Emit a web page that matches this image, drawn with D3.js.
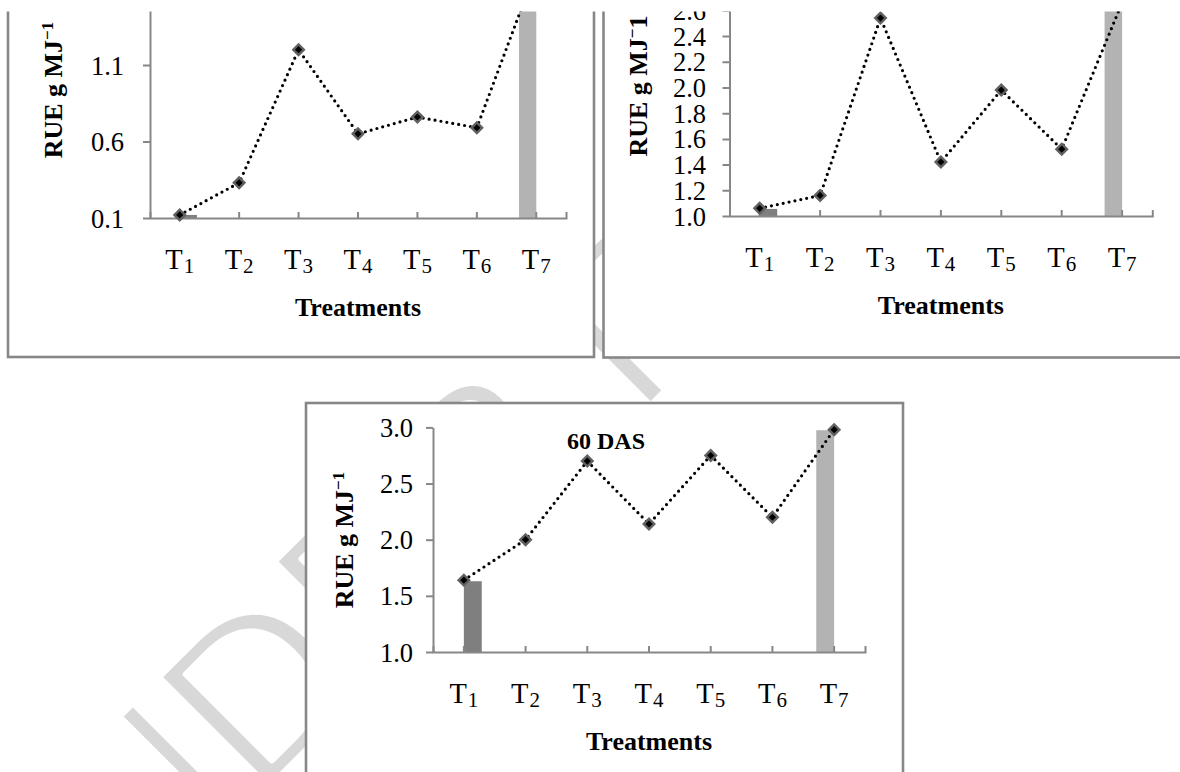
<!DOCTYPE html>
<html><head><meta charset="utf-8">
<script src="https://cdn.jsdelivr.net/npm/d3@7"></script>
<style>html,body{margin:0;padding:0;background:#fff;} svg{display:block;}</style>
</head><body>
<svg id="c" width="1180" height="772"></svg>
<script>
// ---------- data ----------
const categories = ["T1", "T2", "T3", "T4", "T5", "T6", "T7"];
const catMain = ["T", "T", "T", "T", "T", "T", "T"];
const catSub = ["1", "2", "3", "4", "5", "6", "7"];

// RUE (g MJ-1) line series, one per panel
const rueTopLeft = [0.12, 0.33, 1.20, 0.65, 0.76, 0.69, 1.73];
const rueTopRight = [1.06, 1.16, 2.54, 1.42, 1.98, 1.52, 2.66];
const rue60 = [1.64, 2.00, 2.70, 2.14, 2.75, 2.20, 2.98];

// column series (only T1 and T7 carry a column)
const colT1 = [0.12, 1.055, 1.63];
const colT7 = [1.73, 2.66, 2.975];

// axis ticks
const ticksTopLeft = [0.1, 0.6, 1.1, 1.6];
const ticksTopRight = [1.0, 1.2, 1.4, 1.6, 1.8, 2.0, 2.2, 2.4, 2.6, 2.8];
const ticks60 = [1.0, 1.5, 2.0, 2.5, 3.0];

const xTitle = "Treatments";
const yTitleMain = "RUE g MJ";
const title60 = "60 DAS";
const watermark = "UNDER REVIEW";

// ---------- layout ----------
const svg = d3.select("#c");
const FONT = "'Liberation Serif', 'Times New Roman', serif";
const AXIS = "#878787";

const defs = svg.append("defs");
defs.append("clipPath").attr("id", "topclip")
  .append("rect").attr("x", 0).attr("y", 11.5).attr("width", 1180).attr("height", 800);
defs.append("clipPath").attr("id", "wmclip")
  .append("rect").attr("x", 0).attr("y", 14).attr("width", 1180).attr("height", 800);

// watermark (behind the panels)
svg.append("g").attr("clip-path", "url(#wmclip)")
  .append("text")
  .attr("transform", "translate(25,1031) rotate(-45)")
  .attr("font-family", "'Liberation Sans', Arial, sans-serif")
  .attr("font-size", 226)
  .attr("fill", "#d8d8d8")
  .attr("stroke", "#fff").attr("stroke-width", 6).attr("stroke-linejoin", "round")
  .text(watermark);

const panels = [
  { values: rueTopLeft, ticks: ticksTopLeft, domain: [0.1, 1.6], col: 0,
    frame: [8, -60, 586, 417], x0: 150, x1: 566, yBottom: 218, pxPerUnit: 153,
    labelGap: 26, titleX: 62, titleY: 90, clip: true, supOne: true, title: null },
  { values: rueTopRight, ticks: ticksTopRight, domain: [1.0, 2.8], col: 1,
    frame: [603.5, -60, 640, 417.5], x0: 729.5, x1: 1152.3, yBottom: 216, pxPerUnit: 128.5,
    labelGap: 23.5, titleX: 647, titleY: 86, clip: true, supOne: false, title: null },
  { values: rue60, ticks: ticks60, domain: [1.0, 3.0], col: 2,
    frame: [306, 403, 597, 420], x0: 433, x1: 865, yBottom: 652, pxPerUnit: 112.3,
    labelGap: 20, titleX: 353, titleY: 540, clip: false, supOne: true, title: title60 }
];

panels.forEach(p => {
  const g = svg.append("g");
  if (p.clip) g.attr("clip-path", "url(#topclip)");

  // frame
  g.append("rect")
    .attr("x", p.frame[0]).attr("y", p.frame[1])
    .attr("width", p.frame[2]).attr("height", p.frame[3])
    .attr("fill", "#fff").attr("stroke", AXIS).attr("stroke-width", 2.6);

  const x = d3.scaleBand().domain(categories).range([p.x0, p.x1]).padding(0);
  const yTop = p.yBottom - (p.domain[1] - p.domain[0]) * p.pxPerUnit;
  const y = d3.scaleLinear().domain(p.domain).range([p.yBottom, yTop]);
  const bw = x.bandwidth();
  const cx = c => x(c) + bw / 2;
  const colW = bw * 0.29;

  // columns
  g.append("rect")
    .attr("x", cx(categories[0])).attr("width", colW)
    .attr("y", y(colT1[p.col])).attr("height", y(p.domain[0]) - y(colT1[p.col]))
    .attr("fill", "#7f7f7f");
  g.append("rect")
    .attr("x", cx(categories[6]) - colW).attr("width", colW)
    .attr("y", y(colT7[p.col])).attr("height", y(p.domain[0]) - y(colT7[p.col]))
    .attr("fill", "#b3b3b3");

  // y axis
  const ya = g.append("g").attr("transform", `translate(${p.x0},0)`)
    .call(d3.axisLeft(y).tickValues(p.ticks).tickSizeInner(7).tickSizeOuter(0)
      .tickPadding(p.labelGap - 7).tickFormat(d3.format(".1f")));
  ya.select(".domain").attr("stroke", AXIS).attr("stroke-width", 2);
  ya.selectAll(".tick line").attr("stroke", AXIS).attr("stroke-width", 2);
  ya.selectAll(".tick text").attr("font-family", FONT).attr("font-size", 26.5)
    .attr("fill", "#000").attr("dy", "0.34em");

  // x axis (ticks pointing up into plot)
  const xa = g.append("g").attr("transform", `translate(0,${p.yBottom})`)
    .call(d3.axisBottom(x).tickSizeInner(-6).tickSizeOuter(-6).tickFormat(""));
  xa.select(".domain").attr("stroke", AXIS).attr("stroke-width", 2);
  xa.selectAll(".tick line").attr("stroke", AXIS).attr("stroke-width", 2);

  // category labels with subscripts
  const lab = g.append("g").selectAll("text").data(categories).join("text")
    .attr("x", d => cx(d)).attr("y", p.yBottom + 51)
    .attr("text-anchor", "middle").attr("font-family", FONT).attr("font-size", 28.5).attr("fill", "#000");
  lab.append("tspan").text((d, i) => catMain[i]);
  lab.append("tspan").attr("dx", 1).attr("dy", 3.5).attr("font-size", 21).text((d, i) => catSub[i]);

  // x title
  g.append("text").attr("x", (p.x0 + p.x1) / 2).attr("y", p.yBottom + 98)
    .attr("text-anchor", "middle").attr("font-family", FONT).attr("font-weight", "bold")
    .attr("font-size", 26).attr("fill", "#000").text(xTitle);

  // y title
  const yt = g.append("text")
    .attr("transform", `translate(${p.titleX},${p.titleY}) rotate(-90)`)
    .attr("text-anchor", "middle").attr("font-family", FONT).attr("font-weight", "bold")
    .attr("font-size", 26).attr("fill", "#000");
  yt.append("tspan").text(yTitleMain);
  if (p.supOne) {
    yt.append("tspan").attr("dy", -9).attr("font-size", 17).text("\u22121");
  } else {
    yt.append("tspan").attr("dy", -9).attr("font-size", 17).text("\u2212");
    yt.append("tspan").attr("dy", 9).text("1");
  }

  // panel title
  if (p.title) {
    g.append("text").attr("x", (p.x0 + p.x1) / 2 - 43).attr("y", p.yBottom - 203)
      .attr("text-anchor", "middle").attr("font-family", FONT).attr("font-weight", "bold")
      .attr("font-size", 24).attr("fill", "#000").text(p.title);
  }

  // dotted line
  const line = d3.line().x((d, i) => cx(categories[i])).y(d => y(d));
  g.append("path").datum(p.values).attr("d", line)
    .attr("fill", "none").attr("stroke", "#000").attr("stroke-width", 3.2)
    .attr("stroke-linecap", "round").attr("stroke-dasharray", "0,6");

  // diamond markers
  g.selectAll(".mk").data(p.values).join("path")
    .attr("transform", (d, i) => `translate(${cx(categories[i])},${y(d)}) rotate(45)`)
    .attr("d", d3.symbol(d3.symbolSquare, 56)())
    .attr("fill", "#000").attr("stroke", "#616161").attr("stroke-width", 2.4);
});
</script>
</body></html>
